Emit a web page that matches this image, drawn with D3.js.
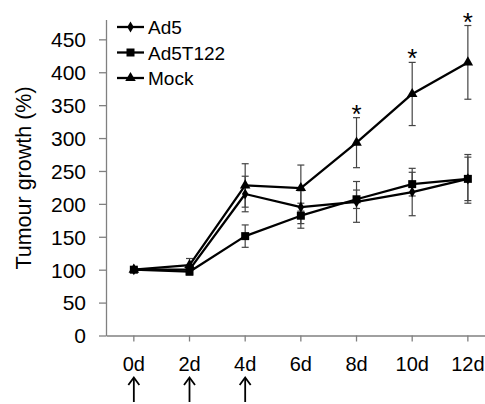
<!DOCTYPE html>
<html>
<head>
<meta charset="utf-8">
<script src="https://cdn.jsdelivr.net/npm/d3@7"></script>
<style>
  html, body { margin: 0; padding: 0; background: #fff; }
  svg { display: block; }
  text { font-family: "Liberation Sans", Arial, sans-serif; fill: #000; }
</style>
</head>
<body>
<svg id="chart" width="485" height="404"></svg>
<script>
// ---- data ----
const categories = ["0d", "2d", "4d", "6d", "8d", "10d", "12d"];
const seriesNames = ["Ad5", "Ad5T122", "Mock"];
const ad5Values = [100, 100, 215, 195, 203, 218, 238];
const ad5Errors = [3, 4, 27, 25, 31, 36, 37];
const ad5t122Values = [100, 97, 151, 182, 207, 230, 238];
const ad5t122Errors = [3, 5, 17, 19, 14, 18, 33];
const mockValues = [100, 107, 228, 224, 293, 367, 415];
const mockErrors = [3, 10, 33, 35, 38, 48, 56];
const mockSignificant = [false, false, false, false, true, true, true];
const treatmentDays = ["0d", "2d", "4d"];
const yTicks = [0, 50, 100, 150, 200, 250, 300, 350, 400, 450];
const yTitle = "Tumour growth (%)";

const series = [
  { name: seriesNames[0], values: ad5Values, errors: ad5Errors, symbol: d3.symbolDiamond, size: 36 },
  { name: seriesNames[1], values: ad5t122Values, errors: ad5t122Errors, symbol: d3.symbolSquare, size: 64 },
  { name: seriesNames[2], values: mockValues, errors: mockErrors, symbol: d3.symbolTriangle, size: 48 }
];

const svg = d3.select("#chart");

const x = d3.scaleBand().domain(categories).range([106, 495.7]).padding(0);
const xc = c => x(c) + x.bandwidth() / 2;
const y = d3.scaleLinear().domain([0, 480]).range([335.5, 19.6]);

// ---- axes ----
const yAxis = svg.append("g").attr("transform", "translate(106,0)")
  .call(d3.axisLeft(y).tickValues(yTicks).tickSize(7).tickPadding(13).tickSizeOuter(0));
yAxis.select(".domain").attr("stroke", "#808080").attr("stroke-width", 1.3);
yAxis.selectAll(".tick line").attr("stroke", "#808080").attr("stroke-width", 1.3);
yAxis.selectAll(".tick text").style("font-size", "21px").attr("font-family", null).attr("dy", "0.35em");

const xAxis = svg.append("g").attr("transform", "translate(0,335.5)")
  .call(d3.axisBottom(x).tickSize(6).tickPadding(15).tickSizeOuter(0));
xAxis.select(".domain").attr("stroke", "#808080").attr("stroke-width", 1.3);
xAxis.selectAll(".tick line").attr("stroke", "#808080").attr("stroke-width", 1.3);
xAxis.selectAll(".tick text").style("font-size", "20px").attr("font-family", null);

// y title
svg.append("text")
  .attr("transform", "translate(31," + 178 + ") rotate(-90)")
  .attr("text-anchor", "middle")
  .style("font-size", "21.5px")
  .text(yTitle);

// ---- error bars ----
const errG = svg.append("g").attr("stroke", "#444").attr("stroke-width", 1.2);
series.forEach(s => {
  s.values.forEach((v, i) => {
    const cx = xc(categories[i]);
    const top = y(v + s.errors[i]), bot = y(v - s.errors[i]);
    errG.append("line").attr("x1", cx).attr("x2", cx).attr("y1", top).attr("y2", bot);
    errG.append("line").attr("x1", cx - 3.5).attr("x2", cx + 3.5).attr("y1", top).attr("y2", top);
    errG.append("line").attr("x1", cx - 3.5).attr("x2", cx + 3.5).attr("y1", bot).attr("y2", bot);
  });
});

// ---- lines ----
const line = d3.line().x((d, i) => xc(categories[i])).y(d => y(d));
series.forEach(s => {
  svg.append("path").datum(s.values)
    .attr("fill", "none").attr("stroke", "#000").attr("stroke-width", 2.3)
    .attr("stroke-linejoin", "round")
    .attr("d", line);
});
// markers
series.forEach(s => {
  const sym = d3.symbol().type(s.symbol).size(s.size);
  svg.append("g").selectAll("path").data(s.values).join("path")
    .attr("transform", (d, i) => `translate(${xc(categories[i])},${y(d)})`)
    .attr("d", sym).attr("fill", "#000");
});

// significance asterisks
mockValues.forEach((v, i) => {
  if (!mockSignificant[i]) return;
  svg.append("text")
    .attr("x", xc(categories[i]))
    .attr("y", y(v + mockErrors[i]) - 10 + 15)
    .attr("text-anchor", "middle")
    .style("font-size", "26px")
    .text("*");
});

// ---- treatment arrows ----
treatmentDays.forEach(c => {
  const cx = xc(c);
  const g = svg.append("g").attr("stroke", "#000").attr("stroke-width", 1.8).attr("fill", "none");
  g.append("line").attr("x1", cx).attr("x2", cx).attr("y1", 378).attr("y2", 402);
  g.append("path").attr("d", `M${cx - 5.5},${385} L${cx},${377.5} L${cx + 5.5},${385}`);
});

// ---- legend ----
const legend = svg.append("g");
const legendY = [27, 52.5, 78];
series.forEach((s, i) => {
  const ly = legendY[i];
  legend.append("line").attr("x1", 117).attr("x2", 144).attr("y1", ly).attr("y2", ly)
    .attr("stroke", "#000").attr("stroke-width", 2.3);
  legend.append("path").attr("transform", `translate(130.5,${ly})`)
    .attr("d", d3.symbol().type(s.symbol).size(s.size)()).attr("fill", "#000");
  legend.append("text").attr("x", 148).attr("y", ly + 7)
    .style("font-size", "19px").text(s.name);
});
</script>
</body>
</html>
